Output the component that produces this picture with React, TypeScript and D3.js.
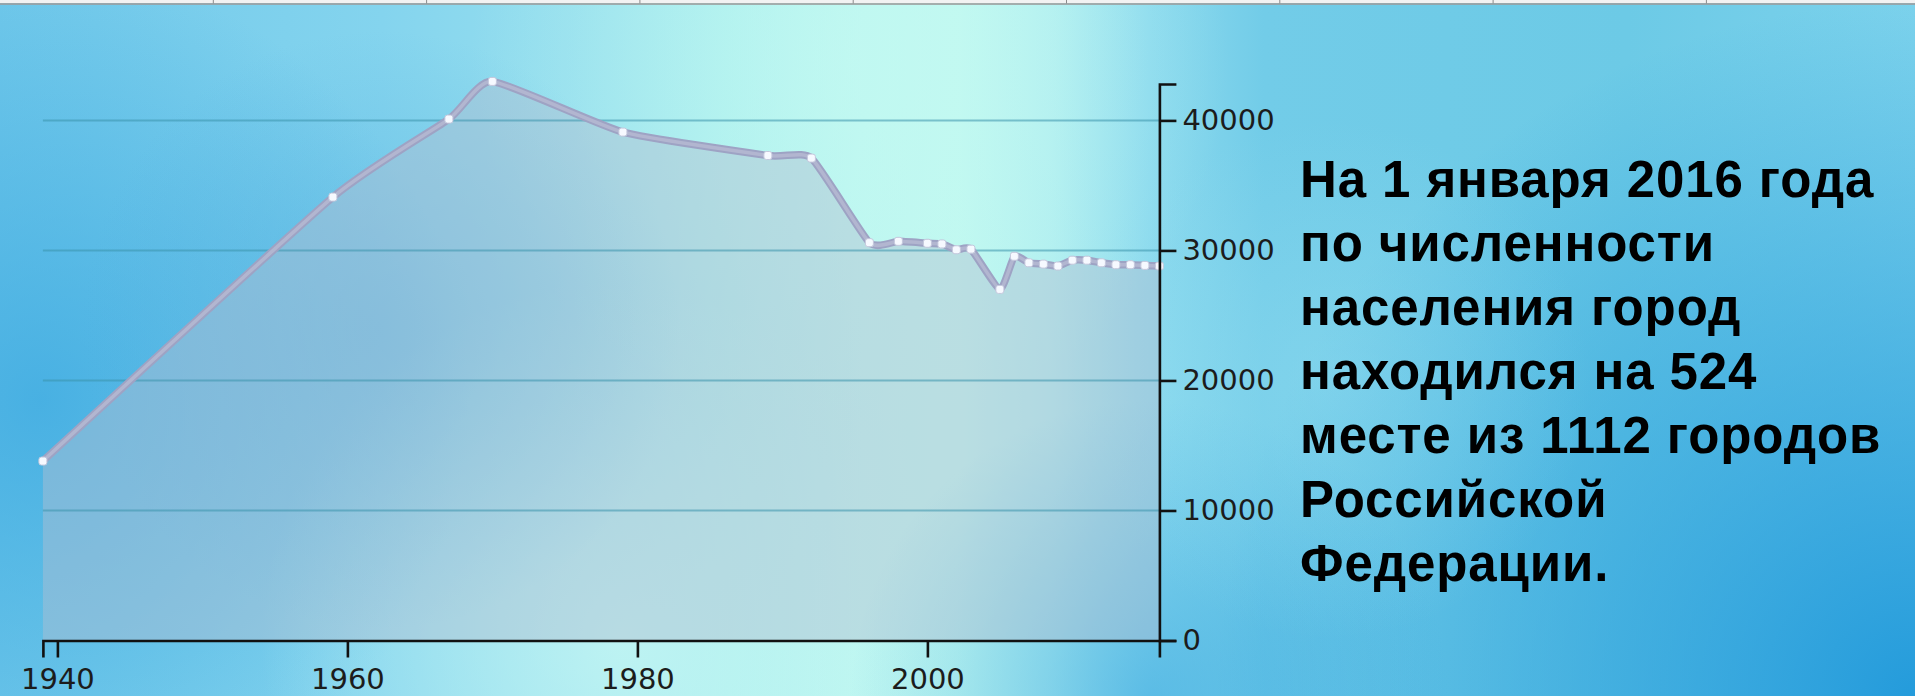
import React, { useEffect, useRef } from "react";
import * as d3 from "d3";

const years = [1939, 1959, 1967, 1970, 1979, 1989, 1992, 1996, 1998, 2000, 2001, 2002, 2003, 2005, 2006, 2007, 2008, 2009, 2010, 2011, 2012, 2013, 2014, 2015, 2016];
const population = [13800, 34100, 40100, 43000, 39100, 37300, 37100, 30600, 30700, 30550, 30500, 30050, 30100, 27000, 29550, 29050, 28950, 28800, 29250, 29250, 29050, 28900, 28900, 28850, 28800];
const yTicks = [0, 10000, 20000, 30000, 40000];
const xTicks = [1940, 1960, 1980, 2000];
const textLines = [
  "На 1 января 2016 года",
  "по численности",
  "населения город",
  "находился на 524",
  "месте из 1112 городов",
  "Российской",
  "Федерации.",
];

const W = 1915;
const H = 696;

export default function App() {
  const ref = useRef<SVGSVGElement>(null);

  useEffect(() => {
    const svg = d3.select(ref.current);
    svg.selectAll("*").remove();
    const defs = svg.append("defs");

    const lg = defs.append("linearGradient").attr("id", "bgX").attr("x1", "0%").attr("x2", "100%").attr("y1", "0%").attr("y2", "0%");
    const stops: [number, string][] = [
      [0, "#70c8ea"], [0.2, "#84d4ee"], [0.3, "#96dfee"], [0.38, "#aaeeee"], [0.45, "#bcf6f0"],
      [0.5, "#c0f8f0"], [0.55, "#b0eef0"], [0.6, "#8cdaee"], [0.66, "#72cce8"], [0.85, "#6ccae6"], [1, "#7cd2ec"],
    ];
    stops.forEach(([o, c]) => lg.append("stop").attr("offset", o).attr("stop-color", c));

    const blobs: { id: string; cx: number; cy: number; r: number; color: string; op: number }[] = [
      { id: "b1", cx: 40, cy: 400, r: 430, color: "#3aa8e0", op: 0.75 },
      { id: "b2", cx: 1915, cy: 700, r: 700, color: "#1f98da", op: 0.95 },
      { id: "b3", cx: 620, cy: 640, r: 360, color: "#c8f8f4", op: 0.75 },
      { id: "b4", cx: 1150, cy: 700, r: 300, color: "#3aa8e0", op: 0.6 },
      { id: "b5", cx: 850, cy: 60, r: 380, color: "#c4faf2", op: 0.6 },
      { id: "b6", cx: 380, cy: 330, r: 300, color: "#4aa8dc", op: 0.45 },
      { id: "b7", cx: 1330, cy: 380, r: 260, color: "#92dcf0", op: 0.45 },
    ];
    blobs.forEach((b) => {
      const rg = defs.append("radialGradient").attr("id", b.id).attr("gradientUnits", "userSpaceOnUse")
        .attr("cx", b.cx).attr("cy", b.cy).attr("r", b.r);
      rg.append("stop").attr("offset", 0).attr("stop-color", b.color).attr("stop-opacity", b.op);
      rg.append("stop").attr("offset", 1).attr("stop-color", b.color).attr("stop-opacity", 0);
    });

    svg.append("rect").attr("width", W).attr("height", H).attr("fill", "url(#bgX)");
    blobs.forEach((b) => svg.append("rect").attr("width", W).attr("height", H).attr("fill", `url(#${b.id})`));

    const x = d3.scaleLinear().domain([1939, 2016]).range([42.9, 1159.4]);
    const y = d3.scaleLinear().domain([0, 42800]).range([640.5, 84]);

    const pts = years.map((yr, i) => [yr, population[i]] as [number, number]);
    const curve = d3.curveCardinal.tension(0.5);

    const area = d3.area<[number, number]>().x((d) => x(d[0])).y0(y(0)).y1((d) => y(d[1])).curve(curve);
    svg.append("path").attr("d", area(pts)!).attr("fill", "rgba(178,190,208,0.45)");

    svg.append("g").selectAll("line").data(yTicks.filter((t) => t > 0)).join("line")
      .attr("x1", x(1939)).attr("x2", x(2016)).attr("y1", (d) => y(d)).attr("y2", (d) => y(d))
      .attr("stroke", "#3a94ac").attr("stroke-opacity", 0.55).attr("stroke-width", 2);

    const line = d3.line<[number, number]>().x((d) => x(d[0])).y((d) => y(d[1])).curve(curve);
    svg.append("path").attr("d", line(pts)!).attr("fill", "none").attr("stroke", "#9ea3c4").attr("stroke-width", 7.5).attr("stroke-linejoin", "round");
    svg.append("path").attr("d", line(pts)!).attr("fill", "none").attr("stroke", "#b2b6d0").attr("stroke-width", 3.5).attr("stroke-linejoin", "round");

    svg.append("g").selectAll("rect").data(pts).join("rect")
      .attr("x", (d) => x(d[0]) - 4).attr("y", (d) => y(d[1]) - 4).attr("width", 8).attr("height", 8).attr("rx", 2.5)
      .attr("fill", "#f6f9ff").attr("stroke", "#c4c8dc").attr("stroke-width", 1);

    const styleAxis = (g: d3.Selection<SVGGElement, unknown, null, undefined>) => {
      g.attr("font-family", "DejaVu Sans").attr("font-size", 29);
      g.selectAll("path").attr("stroke", "#111").attr("stroke-width", 2.6);
      g.selectAll("line").attr("stroke", "#111").attr("stroke-width", 2.6);
      g.selectAll("text").attr("fill", "#1c1c1c");
    };

    const gx = svg.append("g").attr("transform", `translate(0,${y(0)})`)
      .call(d3.axisBottom(x).tickValues(xTicks).tickFormat(d3.format("d")).tickSize(17).tickSizeOuter(17).tickPadding(11));
    styleAxis(gx);

    const gy = svg.append("g").attr("transform", `translate(${x(2016)},0)`)
      .call(d3.axisRight(y).tickValues(yTicks).tickFormat(d3.format("d")).tickSize(17).tickSizeOuter(17).tickPadding(6));
    styleAxis(gy);

    const tg = svg.append("g").attr("font-family", "Liberation Sans, Arial, sans-serif").attr("font-weight", "bold")
      .attr("font-size", 51).attr("letter-spacing", 0.9).attr("fill", "#000");
    tg.selectAll("text").data(textLines).join("text")
      .attr("x", 1300).attr("y", (_d, i) => 197 + i * 64).text((d) => d);

    svg.append("rect").attr("x", 0).attr("y", 0).attr("width", W).attr("height", 3.2).attr("fill", "#f2f2f2");
    svg.append("rect").attr("x", 0).attr("y", 3.2).attr("width", W).attr("height", 1.6).attr("fill", "#9c9c9c");
    svg.append("g").selectAll("line").data(d3.range(1, 9)).join("line")
      .attr("x1", (d) => d * 213.3).attr("x2", (d) => d * 213.3).attr("y1", 0).attr("y2", 3.5)
      .attr("stroke", "#8a8a8a").attr("stroke-width", 1);
  }, []);

  return <svg ref={ref} width={W} height={H} style={{ position: "fixed", left: 0, top: 0, display: "block" }} />;
}
